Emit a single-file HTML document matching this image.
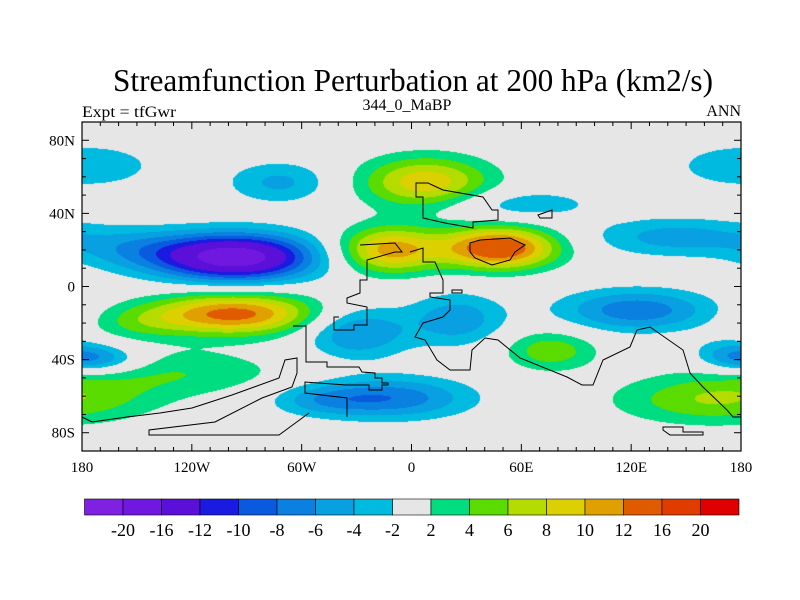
<!DOCTYPE html>
<html><head><meta charset="utf-8"><style>
html,body{margin:0;padding:0;background:#fff;}
#wrap{position:relative;width:800px;height:600px;}
#field{position:absolute;left:82px;top:122px;}
svg{position:absolute;left:0;top:0;}
text{font-family:"Liberation Serif",serif;fill:#000;}
</style></head><body>
<div id="wrap">
<canvas id="field" width="659" height="329"></canvas>
<svg id="svg" width="800" height="600">
<text x="413" y="91" font-size="32" text-anchor="middle" textLength="600" lengthAdjust="spacingAndGlyphs">Streamfunction Perturbation at 200 hPa (km2/s)</text>
<text x="82" y="117" font-size="16" textLength="94" lengthAdjust="spacingAndGlyphs">Expt = tfGwr</text>
<text x="407" y="110" font-size="16" text-anchor="middle">344_0_MaBP</text>
<text x="741" y="116" font-size="16" text-anchor="end">ANN</text>
<g id="coast" fill="none" stroke="#000" stroke-width="1">
<polyline points="360,245 395,243 402,252 395,252 367,260 367,280 360,280 360,293 347,298 347,303 367,307 367,325 354,325 354,330 334,330 334,317 339,317"/>
<polyline points="293,326 306,326 306,362 327,362 327,367 359,367 362,372 375,373 375,378 382,378 382,383 388,383 388,385 382,385 382,390 369,390 369,385 346,385 305,382 305,393 347,398 347,417"/>
<polyline points="410,252 423,248 423,262 435,262 443,280 443,293 430,293 430,297 450,300 450,310 443,317 423,323 415,337 425,340 437,360 450,370 470,370 472,350 485,338 498,340 520,358 567,377 582,385 593,385 603,360 630,347 637,330 650,327 683,350 690,373 703,387 727,410 733,417 741,417"/>
<polygon points="416,183 428,183 443,190 483,197 492,210 498,210 498,220 473,222 473,228 445,223 423,218 423,197 416,197"/>
<polygon points="470,243 480,240 510,238 525,245 515,252 510,260 492,265 475,258 470,252"/>
<polygon points="663,427 683,427 683,432 703,432 703,435 670,435 663,430"/>
<polyline points="82,417 92,422 127,417 160,413 192,408 232,395 279,378 285,360 297,358 297,373 292,387 262,398 215,422 149,430 149,435 279,435 309,413"/>
<polygon points="452,290 462,290 462,293 452,293"/>
<polygon points="538,215 552,210 552,218 540,218"/>
</g>
<rect x="82" y="122" width="659" height="329" fill="none" stroke="#000" stroke-width="1.2"/>
<g id="ticks" stroke="#000" stroke-width="1"></g>
<g id="labels"></g>
<g id="cbar"></g>
</svg>
</div>
<script>
const levels=[-20,-16,-12,-10,-8,-6,-4,-2,2,4,6,8,10,12,16,20];
const colors=["#8020e0","#7018e0","#5a10d8","#1a1ae0","#0a5ae0","#0a80e0","#08a0e0","#00bae0","#e6e6e6","#00dc80","#5adc00","#b4dc00","#dcd000","#e0a000","#e05a00","#e03c00","#e00000"];
// blobs: centers (lon, lat), amplitudes, widths
const blobLon=[-96,-97,-130,165,-170,-178,-72,8,-12,48,58,115,145,123,-30,25,-11,-50,76,174,-150,-150];
const blobLat=[16,-15,-47,-62,-40,66,57,57,20,21,45,43,27,-13,-25,-18,-61,-62,-35,-37,20,-20];
const blobAmp=[-18.5,13,3.8,6,-6,-3.6,-4.5,9.5,11,15,-3.6,2.6,-5,-7.5,-6.5,-5.5,-7.5,-3.5,5.5,-4,-4,3];
const blobSx=[30,32,44,37,17,28,20,25,20,22,30,6,33,29,20,18,30,20,17.6,14,25,20];
const blobSy=[9,8,9,9.5,5.4,9,8,10,9,8,6,3,7.4,8,10,10,8,6,7.7,6,8,7];
const lonTicks=[-180,-120,-60,0,60,120,180];
const lonLabels=["180","120W","60W","0","60E","120E","180"];
const latTicks=[80,40,0,-40,-80];
const latLabels=["80N","40N","0","40S","80S"];
const X0=82,X1=741,Y0=122,Y1=451;
function xOf(lon){return X0+(lon+180)/360*(X1-X0);}
function yOf(lat){return Y0+(90-lat)/180*(Y1-Y0);}
function hex(c){return[parseInt(c.substr(1,2),16),parseInt(c.substr(3,2),16),parseInt(c.substr(5,2),16)];}
const cv=document.getElementById('field'),ctx=cv.getContext('2d');
const W=cv.width,H=cv.height,img=ctx.createImageData(W,H);
const rgb=colors.map(hex);
for(let py=0;py<H;py++){const lat=90-(py+0.5)/H*180;
 for(let px=0;px<W;px++){const lon=-180+(px+0.5)/W*360;let v=0;
  for(let k=0;k<blobLon.length;k++){let dl=lon-blobLon[k];dl=((dl+540)%360)-180;const dy=lat-blobLat[k];
   const r=dl*dl/(2*blobSx[k]*blobSx[k])+dy*dy/(2*blobSy[k]*blobSy[k]);if(r<12)v+=blobAmp[k]*Math.exp(-r);}
  let i=0;while(i<levels.length&&v>=levels[i])i++;const c=rgb[i],o=(py*W+px)*4;
  img.data[o]=c[0];img.data[o+1]=c[1];img.data[o+2]=c[2];img.data[o+3]=255;}}
ctx.putImageData(img,0,0);
const NS="http://www.w3.org/2000/svg";
function mk(t,a,p){const e=document.createElementNS(NS,t);for(const k in a)e.setAttribute(k,a[k]);p.appendChild(e);return e;}
const tg=document.getElementById('ticks'),lg=document.getElementById('labels');
for(let lon=-180;lon<=180;lon+=10){const x=xOf(lon),L=(lon%60===0)?7:4;
 const a=mk('line',{x1:x,y1:Y1,x2:x,y2:Y1-L},tg);
 const b=mk('line',{x1:x,y1:Y0,x2:x,y2:Y0+L},tg);}
for(let lat=-90;lat<=90;lat+=10){const y=yOf(lat),L=(lat%40===0)?7:4;
 const a=mk('line',{x1:X0,y1:y,x2:X0+L,y2:y},tg);
 const b=mk('line',{x1:X1,y1:y,x2:X1-L,y2:y},tg);}
lonTicks.forEach((lon,i)=>{const t=mk('text',{x:xOf(lon),y:472,'font-size':15,'text-anchor':'middle'},lg);t.textContent=lonLabels[i];
 });
latTicks.forEach((lat,i)=>{const t=mk('text',{x:75,y:yOf(lat)+5,'font-size':15,'text-anchor':'end'},lg);t.textContent=latLabels[i];
 });
const cg=document.getElementById('cbar');const cx0=84.5,cx1=739,cw=(cx1-cx0)/colors.length;
colors.forEach((c,i)=>{const r=mk('rect',{x:cx0+i*cw,y:499,width:cw,height:16,fill:c,stroke:'#000','stroke-width':0.6},cg);
 });
levels.forEach((v,i)=>{const t=mk('text',{x:cx0+(i+1)*cw,y:536,'font-size':18,'text-anchor':'middle'},cg);t.textContent=String(v);
 });
</script>
</body></html>
